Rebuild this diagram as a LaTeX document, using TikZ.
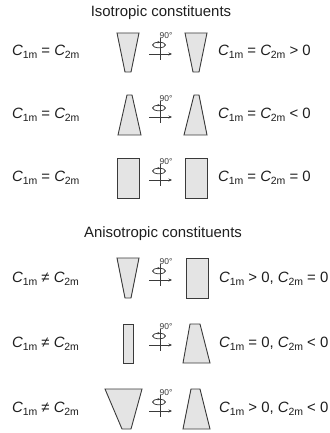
\documentclass[tikz,border=0pt]{standalone}
\usepackage{fontspec}
\setmainfont{Liberation Sans}
\usetikzlibrary{arrows.meta}
\definecolor{edgec}{HTML}{3A3A3A}
\definecolor{fillc}{HTML}{E4E4E4}
\definecolor{txtc}{HTML}{1E1E1E}
\newcommand{\Cq}[1]{\textit{C}\kern-0.3pt\raisebox{-0.45ex}{\fontsize{10.5}{10.5}\selectfont #1}}
\tikzset{
  shp/.style={draw=edgec, fill=fillc, line width=0.9pt, line join=miter},
  eqn/.style={text=txtc, font=\fontsize{15}{15}\selectfont, inner sep=0pt},
  ttl/.style={text=txtc, font=\fontsize{15}{15}\selectfont, inner sep=0pt},
  deg/.style={text=edgec, font=\fontsize{8.5}{8.5}\selectfont, inner sep=0pt},
  rotln/.style={draw=edgec, line width=0.75pt},
}
\newcommand{\rotsym}[2]{%
  \draw[rotln] (160,#1-14) -- (160,#1+8);
  \draw[rotln, -{Stealth[length=3.5pt,width=3pt]}] (149,#1+2) -- (172,#1+2);
  \draw[rotln] (159,#1-7) ellipse[x radius=6.5pt, y radius=2.8pt];
  \draw[rotln, -{Stealth[length=2.4pt,width=2.4pt]}] (157,#1-9.8) -- (160,#1-9.6);
  \node[deg] (#2) at (166,#1-16.5) {90°};
}
\begin{document}
\begin{tikzpicture}[x=1bp,y=-1bp]
\useasboundingbox (0,0) rectangle (329,433);
% titles
\node[ttl] (t1) at (161,13) {Isotropic constituents};
\node[ttl] (t2) at (163,234) {Anisotropic constituents};
% row 1 (y 33-72, c 52)
\node[eqn, anchor=west] (l1) at (12,52) {\Cq{1m} = \Cq{2m}};
\draw[shp] (117,33) -- (139,33) -- (131,72) -- (125,72) -- cycle;
\rotsym{52}{d1}
\draw[shp] (185,33) -- (207,33) -- (199,72) -- (193,72) -- cycle;
\node[eqn, anchor=west] (r1) at (218,52) {\Cq{1m} = \Cq{2m} > 0};
% row 2 (95-135, c 115)
\node[eqn, anchor=west] (l2) at (12,115) {\Cq{1m} = \Cq{2m}};
\draw[shp] (127,95) -- (132,95) -- (141,135) -- (118,135) -- cycle;
\rotsym{115}{d2}
\draw[shp] (194,95) -- (199,95) -- (207,135) -- (184,135) -- cycle;
\node[eqn, anchor=west] (r2) at (218,115) {\Cq{1m} = \Cq{2m} < 0};
% row 3 (158-198, c 178)
\node[eqn, anchor=west] (l3) at (12,178) {\Cq{1m} = \Cq{2m}};
\draw[shp] (117,158) rectangle (139,198);
\rotsym{178}{d3}
\draw[shp] (185,158) rectangle (207,198);
\node[eqn, anchor=west] (r3) at (218,178) {\Cq{1m} = \Cq{2m} = 0};
% row 4 (258-298, c 278)
\node[eqn, anchor=west] (l4) at (12,279) {\Cq{1m} ≠ \Cq{2m}};
\draw[shp] (117,258) -- (139,258) -- (131,298) -- (125,298) -- cycle;
\rotsym{278}{d4}
\draw[shp] (186,258) rectangle (208,298);
\node[eqn, anchor=west] (r4) at (219,279) {\Cq{1m} > 0, \Cq{2m} = 0};
% row 5 (324-363, c 343)
\node[eqn, anchor=west] (l5) at (12,344) {\Cq{1m} ≠ \Cq{2m}};
\draw[shp] (123,324) rectangle (133,363);
\rotsym{343}{d5}
\draw[shp] (190,324) -- (200,324) -- (210,363) -- (183,363) -- cycle;
\node[eqn, anchor=west] (r5) at (219,344) {\Cq{1m} = 0, \Cq{2m} < 0};
% row 6 (389-429, c 409)
\node[eqn, anchor=west] (l6) at (12,409) {\Cq{1m} ≠ \Cq{2m}};
\draw[shp] (105,389) -- (142,389) -- (131,429) -- (122,429) -- cycle;
\rotsym{409}{d6}
\draw[shp] (191,389) -- (200,389) -- (210,429) -- (183,429) -- cycle;
\node[eqn, anchor=west] (r6) at (219,409) {\Cq{1m} > 0, \Cq{2m} < 0};
\end{tikzpicture}
\end{document}
